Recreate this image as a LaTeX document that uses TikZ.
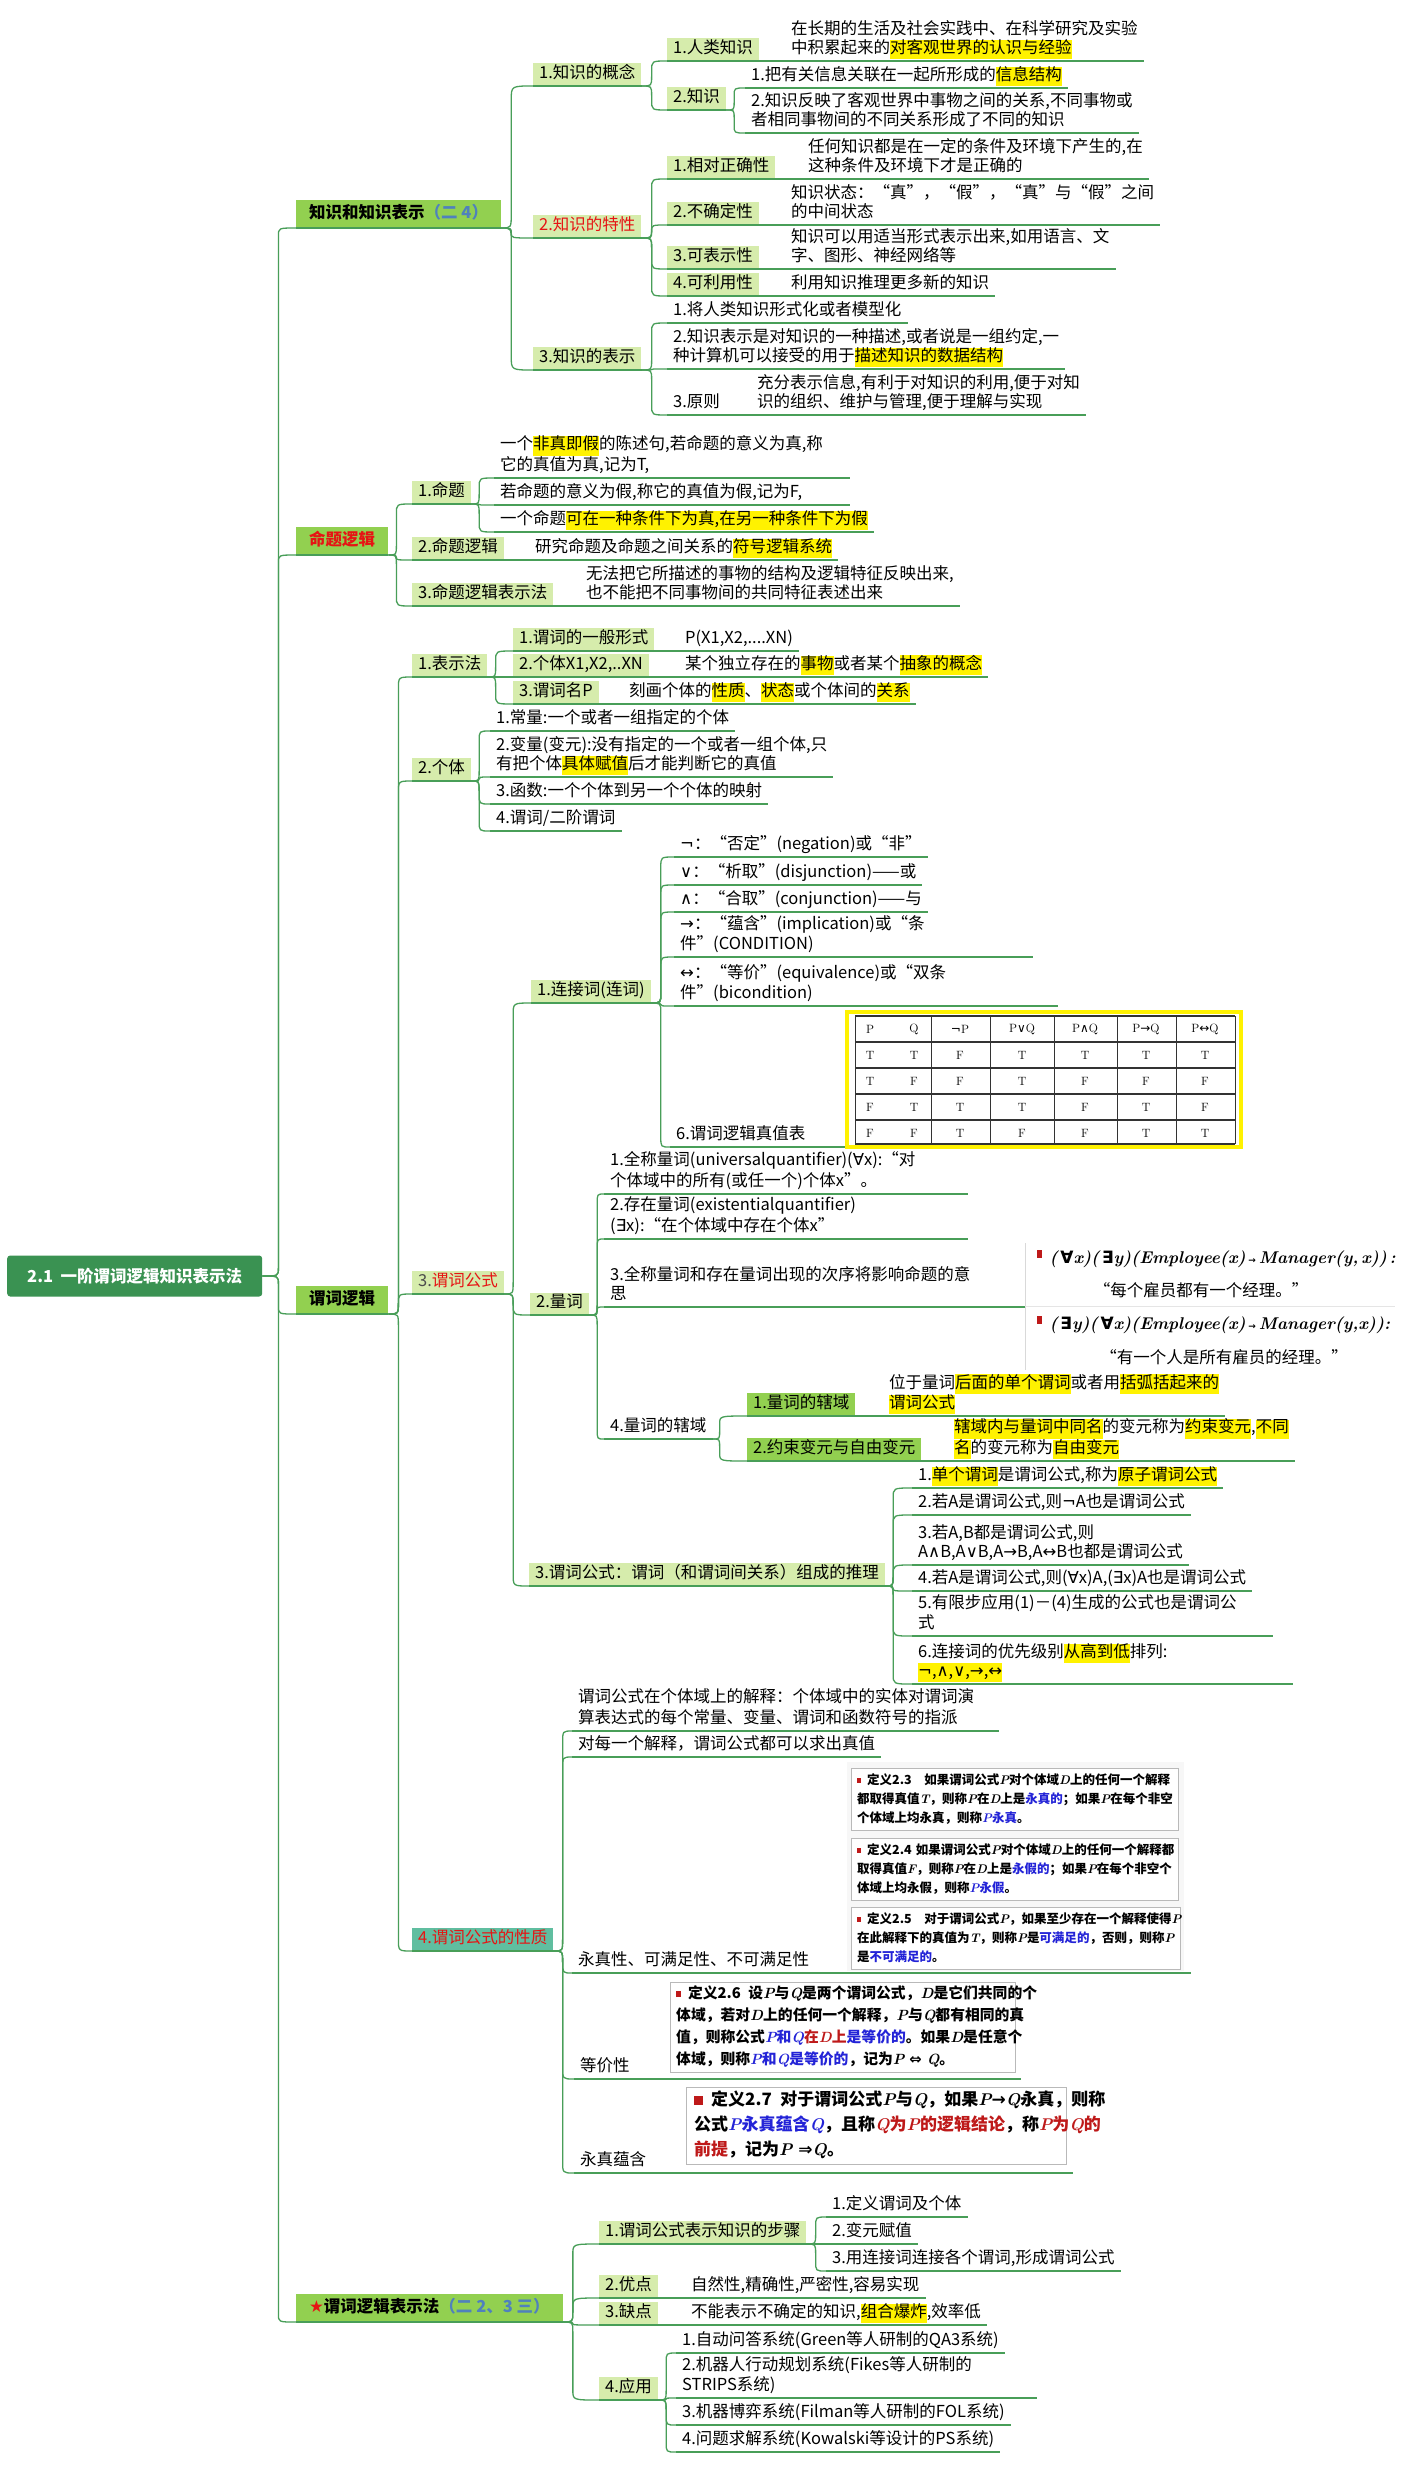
\documentclass[tikz,border=0pt]{standalone}
\usepackage[no-math]{fontspec}
\setmainfont{Noto Sans CJK SC}
\newfontfamily\sym{DejaVu Sans}
\newfontfamily\lmr{Latin Modern Roman}
\usetikzlibrary{calc}
\definecolor{lg}{RGB}{214,236,172}
\definecolor{bg}{RGB}{146,208,80}
\definecolor{tg}{RGB}{96,190,160}
\definecolor{ln}{RGB}{72,158,88}
\definecolor{rootg}{RGB}{58,146,82}
\definecolor{pbl}{RGB}{79,129,189}
\definecolor{dblue}{RGB}{35,35,215}
\definecolor{dred}{RGB}{190,25,25}
\definecolor{tred}{RGB}{230,20,20}
\newcommand\fs{\fontsize{16.5}{19}\selectfont}
\newcommand\hlt[1]{{\setlength{\fboxsep}{0pt}\colorbox{yellow}{\strut #1}}}
\newcommand\sy[1]{{\sym #1}}
\newcommand\vv[1]{{\lmr\bfseries\itshape #1}}
\newcommand\bul{\textcolor{dred}{\rule[0.1em]{0.3em}{0.4em}}\enspace}
\newcommand\formA{{\lmr\bfseries\itshape (\,\sy{∀}x)(\,\sy{∃}y)(Employee(x)\,{\sym\small →}\,Manager(y,\,x))\,:}}
\newcommand\formB{{\lmr\bfseries\itshape (\,\sy{∃}y)(\,\sy{∀}x)(Employee(x)\,{\sym\small →}\,Manager(y,x)):}}
\tikzset{
 every node/.style={font=\fs, text=black},
 box/.style={fill=lg, inner xsep=6pt, inner ysep=1.5pt, anchor=south west, execute at begin node=\strut},
 boxu/.style={box, append after command={(\tikzlastnode.south west) edge[ul] (\tikzlastnode.south east)}},
 gbox/.style={box, fill=bg},
 br/.style={fill=bg, inner xsep=13pt, inner ysep=4pt, anchor=south west, font=\fs\bfseries, execute at begin node=\strut,
   append after command={(\tikzlastnode.south west) edge[ul] (\tikzlastnode.south east)}},
 lf/.style={inner xsep=6pt, inner ysep=1.5pt, anchor=south west, align=left, execute at begin node=\strut, execute at end node=\strut},
 lfu/.style={lf, append after command={(\tikzlastnode.south west) edge[ul] (\tikzlastnode.south east)}},
 ul/.style={draw=ln, line width=1.3pt},
 cn/.style={draw=ln, line width=1.3pt},
 defb/.style={draw=gray!55, fill=white, anchor=north west, align=left, inner xsep=6pt, inner ysep=2.5pt,
   execute at begin node=\strut, execute at end node=\strut},
 conn/.style 2 args={to path={let \p1=(\tikztostart), \p2=(\tikztotarget),
   \n1={((\y2)>(\y1))*2-1}, \n2={min(#2,abs((\y2)-(\y1))/2)} in
   (\p1) .. controls ({\x1+#1pt},\y1) .. ({\x1+#1pt},{\y1+(\n1)*(\n2)*1pt})
   -- ({\x1+#1pt},{\y2-(\n1)*(\n2)*1pt}) .. controls ({\x1+#1pt},\y2) .. (\p2)}},
}
\begin{document}
\begin{tikzpicture}[x=1pt,y=-1pt]
\useasboundingbox (0,0) rectangle (1411,2467);
\fill[white] (0,0) rectangle (1411,2467);

% root and branches
\node[fill=rootg, rounded corners=3pt, text=white, font=\fs\bfseries, minimum height=41pt, minimum width=255pt, anchor=west] (root) at (7,1276) {2.1\ \ 一阶谓词逻辑知识表示法};
\node[br] (B1) at (296,228) {知识和知识表示\textcolor{pbl}{（二\ 4）}};
\node[br, text=tred] (B2) at (296,555) {命题逻辑};
\node[br] (B3) at (296,1314) {谓词逻辑};
\node[br] (B4) at (296,2322) {\textcolor{tred}{\sy{★}}谓词逻辑表示法\textcolor{pbl}{（二\ 2、3\ 三）}};
\foreach \b in {B1,B2,B3,B4} \draw[cn] (root.east) to[conn={16}{8}] (\b.south west);

% ---------- branch 1
\node[boxu] (K1) at (533,86) {1.知识的概念};
\node[boxu, text=tred] (K2) at (533,238) {2.知识的特性};
\node[boxu] (K3) at (533,370) {3.知识的表示};
\foreach \c in {K1,K2,K3} \draw[cn] (B1.south east) to[conn={10}{14}] (\c.south west);

\node[box] (K11) at (667,61) {1.人类知识};
\node[lf] (K11t) at (785,61) {在长期的生活及社会实践中、在科学研究及实验\\中积累起来的\hlt{对客观世界的认识与经验}};
\draw[ul] (K11.south west) -- (K11.south west -| K11t.south east);
\node[boxu] (K12) at (667,110) {2.知识};
\foreach \c in {K11,K12} \draw[cn] (K1.south east) to[conn={10}{10}] (\c.south west);
\node[lfu] (K121) at (745,88) {1.把有关信息关联在一起所形成的\hlt{信息结构}};
\node[lfu] (K122) at (745,133) {2.知识反映了客观世界中事物之间的关系,不同事物或\\者相同事物间的不同关系形成了不同的知识};
\foreach \c in {K121,K122} \draw[cn] (K12.south east) to[conn={8}{8}] (\c.south west);

\node[box] (K21) at (667,179) {1.相对正确性};
\node[lf] (K21t) at (802,179) {任何知识都是在一定的条件及环境下产生的,在\\这种条件及环境下才是正确的};
\node[box] (K22) at (667,225) {2.不确定性};
\node[lf] (K22t) at (785,225) {知识状态：“真”，“假”，“真”与“假”之间\\的中间状态};
\node[box] (K23) at (667,269) {3.可表示性};
\node[lf] (K23t) at (785,269) {知识可以用适当形式表示出来,如用语言、文\\字、图形、神经网络等};
\node[box] (K24) at (667,296) {4.可利用性};
\node[lf] (K24t) at (785,296) {利用知识推理更多新的知识};
\foreach \c in {K21,K22,K23,K24} {
  \draw[ul] (\c.south west) -- (\c.south west -| \c t.south east);
  \draw[cn] (K2.south east) to[conn={10}{10}] (\c.south west);
}

\node[lfu] (K31) at (667,323) {1.将人类知识形式化或者模型化};
\node[lfu] (K32) at (667,369) {2.知识表示是对知识的一种描述,或者说是一组约定,一\\种计算机可以接受的用于\hlt{描述知识的数据结构}};
\node[lf] (K33) at (667,415) {3.原则};
\node[lf] (K33t) at (751,415) {充分表示信息,有利于对知识的利用,便于对知\\识的组织、维护与管理,便于理解与实现};
\draw[ul] (K33.south west) -- (K33.south west -| K33t.south east);
\foreach \c in {K31,K32,K33} \draw[cn] (K3.south east) to[conn={10}{10}] (\c.south west);

% ---------- branch 2
\node[boxu] (P1) at (412,504) {1.命题};
\node[box] (P2) at (412,560) {2.命题逻辑};
\node[lf] (P2t) at (529,560) {研究命题及命题之间关系的\hlt{符号逻辑系统}};
\node[box] (P3) at (412,606) {3.命题逻辑表示法};
\node[lf] (P3t) at (580,606) {无法把它所描述的事物的结构及逻辑特征反映出来,\\也不能把不同事物间的共同特征表述出来};
\draw[ul] (P2.south west) -- (P2.south west -| P2t.south east);
\draw[ul] (P3.south west) -- (P3.south west -| P3t.south east);
\foreach \c in {P1,P2,P3} \draw[cn] (B2.south east) to[conn={8}{10}] (\c.south west);
\node[lfu, text width=344pt] (P11) at (494,478) {一个\hlt{非真即假}的陈述句,若命题的意义为真,称\\它的真值为真,记为T,};
\node[lfu, text width=344pt] (P12) at (494,505) {若命题的意义为假,称它的真值为假,记为F,};
\node[lfu] (P13) at (494,532) {一个命题\hlt{可在一种条件下为真,在另一种条件下为假}};
\foreach \c in {P11,P12,P13} \draw[cn] (P1.south east) to[conn={8}{10}] (\c.south west);

% ---------- branch 3
\node[boxu] (Q1) at (412,677) {1.表示法};
\node[boxu] (Q2) at (412,781) {2.个体};
\node[boxu] (Q3) at (412,1294) {\textcolor{black!70}{3.}\textcolor{tred}{谓词公式}};
\node[boxu, fill=tg, text=tred] (Q4) at (412,1951) {4.谓词公式的性质};
\foreach \c in {Q1,Q2,Q3,Q4} \draw[cn] (B3.south east) to[conn={10}{12}] (\c.south west);

\node[box] (Q11) at (513,651) {1.谓词的一般形式};
\node[lf] (Q11t) at (679,651) {P(X1,X2,....XN)};
\node[box] (Q12) at (513,677) {2.个体X1,X2,..XN};
\node[lf] (Q12t) at (679,677) {某个独立存在的\hlt{事物}或者某个\hlt{抽象的概念}};
\node[box] (Q13) at (513,704) {3.谓词名P};
\node[lf] (Q13t) at (623,704) {刻画个体的\hlt{性质}、\hlt{状态}或个体间的\hlt{关系}};
\foreach \c in {Q11,Q12,Q13} {
  \draw[ul] (\c.south west) -- (\c.south west -| \c t.south east);
  \draw[cn] (Q1.south east) to[conn={8}{10}] (\c.south west);
}

\node[lfu] (Q21) at (490,731) {1.常量:一个或者一组指定的个体};
\node[lfu] (Q22) at (490,777) {2.变量(变元):没有指定的一个或者一组个体,只\\有把个体\hlt{具体赋值}后才能判断它的真值};
\node[lfu] (Q23) at (490,804) {3.函数:一个个体到另一个个体的映射};
\node[lfu] (Q24) at (490,831) {4.谓词/二阶谓词};
\foreach \c in {Q21,Q22,Q23,Q24} \draw[cn] (Q2.south east) to[conn={8}{10}] (\c.south west);

\node[boxu] (Q31) at (531,1003) {1.连接词(连词)};
\node[boxu] (Q32) at (530,1315) {2.量词};
\node[boxu] (Q33) at (529,1586) {3.谓词公式：谓词（和谓词间关系）组成的推理};
\foreach \c in {Q31,Q32,Q33} \draw[cn] (Q3.south east) to[conn={9}{12}] (\c.south west);

\node[lfu] (Q311) at (674,857) {\sy{¬}：“否定”(negation)或“非”};
\node[lfu] (Q312) at (674,885) {\sy{∨}：“析取”(disjunction)——或};
\node[lfu] (Q313) at (674,912) {\sy{∧}：“合取”(conjunction)——与};
\node[lfu, text width=347pt] (Q314) at (674,957) {\sy{→}：“蕴含”(implication)或“条\\件”(CONDITION)};
\node[lfu, text width=372pt] (Q315) at (674,1006) {\sy{↔}：“等价”(equivalence)或“双条\\件”(bicondition)};
\node[lfu, text width=559pt] (Q316) at (670,1147) {6.谓词逻辑真值表};
\foreach \c in {Q311,Q312,Q313,Q314,Q315,Q316} \draw[cn] (Q31.south east) to[conn={10}{10}] (\c.south west);

% truth table
\draw[yellow, line width=3.5pt] (847,1012) rectangle (1241,1147);
\foreach \yy in {1016,1042,1068,1094,1120,1144} \draw[line width=1.3pt, black!80] (855,\yy) -- (1235,\yy);
\foreach \xx in {855,931,990,1054,1117,1176,1235} \draw[line width=0.5pt, black!80] (\xx,1016) -- (\xx,1144);
\begin{scope}[every node/.style={font=\lmr\fontsize{12}{14}\selectfont, text=black}]
\node (h1) at (870,1029) {P};
\node (h2) at (914,1029) {Q};
\node (h3) at (960,1029) {\sy{¬}P};
\node (h4) at (1022,1029) {P\sy{∨}Q};
\node (h5) at (1085,1029) {P\sy{∧}Q};
\node (h6) at (1146,1029) {P\sy{→}Q};
\node (h7) at (1205,1029) {P\sy{↔}Q};
\foreach \ta/\tb/\tc/\td/\te/\tf/\tg [count=\ti] in {T/T/F/T/T/T/T,T/F/F/T/F/F/F,F/T/T/T/F/T/F,F/F/T/F/F/T/T} {
  \node (r\ti a) at (870,{1029+26*\ti}) {\ta};
  \node (r\ti b) at (914,{1029+26*\ti}) {\tb};
  \node (r\ti c) at (960,{1029+26*\ti}) {\tc};
  \node (r\ti d) at (1022,{1029+26*\ti}) {\td};
  \node (r\ti e) at (1085,{1029+26*\ti}) {\te};
  \node (r\ti f) at (1146,{1029+26*\ti}) {\tf};
  \node (r\ti g) at (1205,{1029+26*\ti}) {\tg};
}
\end{scope}

\node[lfu, text width=352pt] (Q321) at (604,1194) {1.全称量词(universalquantifier)(\sy{∀}x):“对\\个体域中的所有(或任一个)个体x”。};
\node[lfu, text width=352pt] (Q322) at (604,1239) {2.存在量词(existentialquantifier)\\(\sy{∃}x):“在个体域中存在个体x”};
\node[lfu, text width=409pt] (Q323) at (604,1307) {3.全称量词和存在量词出现的次序将影响命题的意\\思};
\node[lfu] (Q324) at (604,1439) {4.量词的辖域};
\foreach \c in {Q321,Q322,Q323,Q324} \draw[cn] (Q32.south east) to[conn={8}{10}] (\c.south west);

% quantifier picture
\draw[gray!30] (1025,1243) -- (1025,1370);
\draw[gray!20] (1025,1306) -- (1395,1306);
\fill[dred] (1037,1250) rectangle (1042,1258);
\fill[dred] (1037,1316) rectangle (1042,1324);
\node[anchor=west, text=black, font=\fontsize{17}{19}\selectfont] (FA) at (1046,1259) {\formA};
\node[text=black] (FAq) at (1201,1290) {“每个雇员都有一个经理。”};
\node[anchor=west, text=black, font=\fontsize{17}{19}\selectfont] (FB) at (1046,1325) {\formB};
\node[text=black] (FBq) at (1224,1357) {“有一个人是所有雇员的经理。”};

\node[gbox] (Q3241) at (747,1416) {1.量词的辖域};
\node[lf] (Q3241t) at (883,1416) {位于量词\hlt{后面的单个谓词}或者用\hlt{括弧括起来的}\\\hlt{谓词公式}};
\node[gbox] (Q3242) at (747,1461) {2.约束变元与自由变元};
\node[lf] (Q3242t) at (948,1461) {\hlt{辖域内与量词中同名}的变元称为\hlt{约束变元},\hlt{不同}\\\hlt{名}的变元称为\hlt{自由变元}};
\foreach \c in {Q3241,Q3242} {
  \draw[ul] (\c.south west) -- (\c.south west -| \c t.south east);
  \draw[cn] (Q324.south east) to[conn={7}{8}] (\c.south west);
}

\node[lfu] (Q331) at (912,1488) {1.\hlt{单个谓词}是谓词公式,称为\hlt{原子谓词公式}};
\node[lfu] (Q332) at (912,1515) {2.若A是谓词公式,则\sy{¬}A也是谓词公式};
\node[lfu] (Q333) at (912,1565) {3.若A,B都是谓词公式,则\\A\sy{∧}B,A\sy{∨}B,A\sy{→}B,A\sy{↔}B也都是谓词公式};
\node[lfu] (Q334) at (912,1591) {4.若A是谓词公式,则(\sy{∀}x)A,(\sy{∃}x)A也是谓词公式};
\node[lfu, text width=349pt] (Q335) at (912,1636) {5.有限步应用(1)－(4)生成的公式也是谓词公\\式};
\node[lfu, text width=369pt] (Q336) at (912,1684) {6.连接词的优先级别\hlt{从高到低}排列:\\\hlt{\sy{¬},\sy{∧},\sy{∨},\sy{→},\sy{↔}}};
\foreach \c in {Q331,Q332,Q333,Q334,Q335,Q336} \draw[cn] (Q33.south east) to[conn={8}{10}] (\c.south west);

\node[lfu, text width=415pt] (Q41) at (572,1731) {谓词公式在个体域上的解释：个体域中的实体对谓词演\\算表达式的每个常量、变量、谓词和函数符号的指派};
\node[lfu] (Q42) at (572,1757) {对每一个解释，谓词公式都可以求出真值};
\node[lfu, text width=607pt] (Q43) at (572,1973) {永真性、可满足性、不可满足性};
\node[lfu, text width=435pt] (Q44) at (574,2079) {等价性};
\node[lfu, text width=487pt] (Q45) at (574,2173) {永真蕴含};
\foreach \c in {Q41,Q42,Q43,Q44,Q45} \draw[cn] (Q4.south east) to[conn={9}{12}] (\c.south west);

% definition boxes
\fill[gray!6] (847,1762) rectangle (1184,1971);
\begin{scope}[every node/.style={font=\fontsize{12.5}{19}\selectfont\bfseries, text=black}]
\node[defb, text width=315pt] (D23) at (851,1768) {\bul 定义2.3\quad 如果谓词公式\vv{P}对个体域\vv{D}上的任何一个解释\\都取得真值\vv{T}，则称\vv{P}在\vv{D}上是\textcolor{dblue}{永真的}；如果\vv{P}在每个非空\\个体域上均永真，则称\textcolor{dblue}{\vv{P}永真}。};
\node[defb, text width=315pt] (D24) at (851,1838) {\bul 定义2.4\ 如果谓词公式\vv{P}对个体域\vv{D}上的任何一个解释都\\取得真值\vv{F}，则称\vv{P}在\vv{D}上是\textcolor{dblue}{永假的}；如果\vv{P}在每个非空个\\体域上均永假，则称\textcolor{dblue}{\vv{P}永假}。};
\node[defb, text width=317pt] (D25) at (851,1907) {\bul 定义2.5\quad 对于谓词公式\vv{P}，如果至少存在一个解释使得\vv{P}\\在此解释下的真值为\vv{T}，则称\vv{P}是\textcolor{dblue}{可满足的}，否则，则称\vv{P}\\是\textcolor{dblue}{不可满足的}。};
\end{scope}
\begin{scope}[every node/.style={font=\fontsize{14.8}{22}\selectfont\bfseries, text=black}]
\node[defb, text width=333pt, inner ysep=1pt] (D26) at (670,1982) {\bul 定义2.6\enspace 设\vv{P}与\vv{Q}是两个谓词公式，\vv{D}是它们共同的个\\体域，若对\vv{D}上的任何一个解释，\vv{P}与\vv{Q}都有相同的真\\值，则称公式\textcolor{dblue}{\vv{P}和\vv{Q}}\textcolor{dred}{在\vv{D}上}\textcolor{dblue}{是等价的}。如果\vv{D}是任意个\\体域，则称\textcolor{dblue}{\vv{P}和\vv{Q}是等价的}，记为\vv{P}\ \sy{⇔}\ \vv{Q}。};
\end{scope}
\begin{scope}[every node/.style={font=\fontsize{17}{25}\selectfont\bfseries, text=black}]
\node[defb, text width=364pt, inner xsep=8pt, inner ysep=1pt] (D27) at (686,2087) {\textcolor{dred}{\rule[0.05em]{0.5em}{0.55em}}\enspace 定义2.7\enspace 对于谓词公式\vv{P}与\vv{Q}，如果\vv{P}\sy{→}\vv{Q}永真，则称\\公式\textcolor{dblue}{\vv{P}永真蕴含\vv{Q}}，且称\textcolor{dred}{\vv{Q}为\vv{P}的逻辑结论}，称\textcolor{dred}{\vv{P}为\vv{Q}的}\\\textcolor{dred}{前提}，记为\vv{P}\ \sy{⇒}\vv{Q}。};
\end{scope}

% ---------- branch 4
\node[boxu] (R1) at (599,2244) {1.谓词公式表示知识的步骤};
\node[box] (R2) at (599,2298) {2.优点};
\node[lf] (R2t) at (685,2298) {自然性,精确性,严密性,容易实现};
\node[box] (R3) at (599,2325) {3.缺点};
\node[lf] (R3t) at (685,2325) {不能表示不确定的知识,\hlt{组合爆炸},效率低};
\node[boxu] (R4) at (599,2400) {4.应用};
\draw[ul] (R2.south west) -- (R2.south west -| R2t.south east);
\draw[ul] (R3.south west) -- (R3.south west -| R3t.south east);
\foreach \c in {R1,R2,R3,R4} \draw[cn] (B4.south east) to[conn={10}{10}] (\c.south west);
\node[lfu] (R11) at (826,2217) {1.定义谓词及个体};
\node[lfu] (R12) at (826,2244) {2.变元赋值};
\node[lfu] (R13) at (826,2271) {3.用连接词连接各个谓词,形成谓词公式};
\foreach \c in {R11,R12,R13} \draw[cn] (R1.south east) to[conn={9}{10}] (\c.south west);
\node[lfu] (R41) at (676,2353) {1.自动问答系统(Green等人研制的QA3系统)};
\node[lfu, text width=349pt] (R42) at (676,2398) {2.机器人行动规划系统(Fikes等人研制的\\STRIPS系统)};
\node[lfu] (R43) at (676,2425) {3.机器博弈系统(Filman等人研制的FOL系统)};
\node[lfu] (R44) at (676,2452) {4.问题求解系统(Kowalski等设计的PS系统)};
\foreach \c in {R41,R42,R43,R44} \draw[cn] (R4.south east) to[conn={8}{10}] (\c.south west);
\end{tikzpicture}
\end{document}
